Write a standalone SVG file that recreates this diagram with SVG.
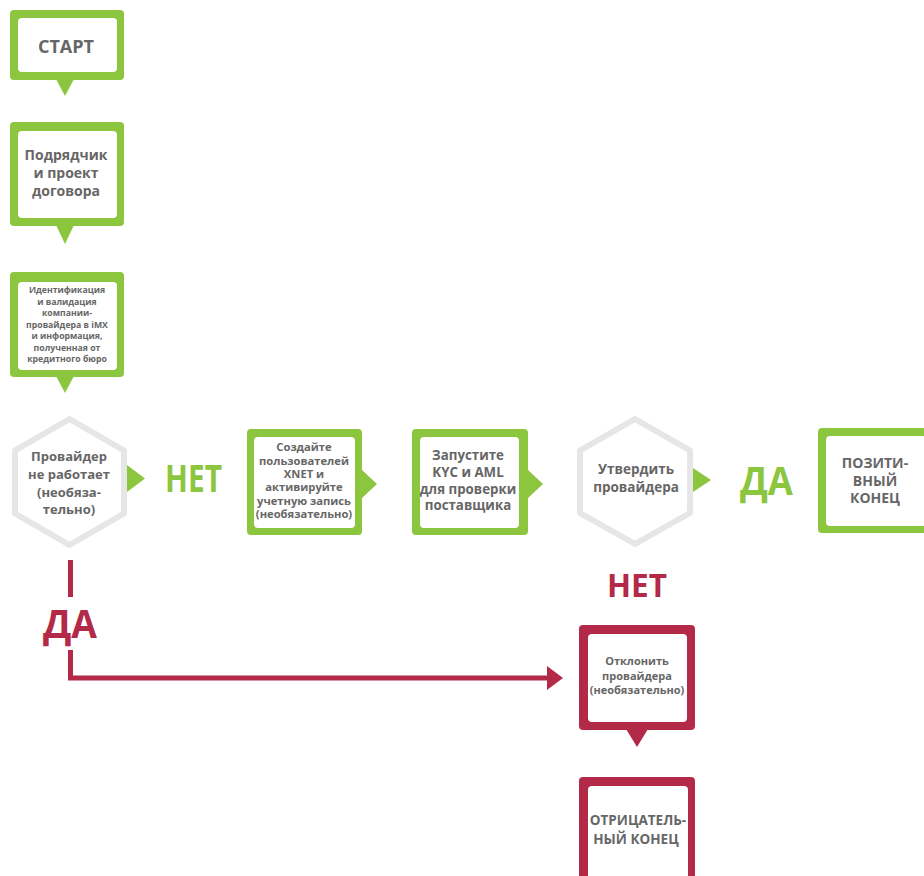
<svg xmlns="http://www.w3.org/2000/svg" width="924" height="876" viewBox="0 0 924 876">
<defs>
<style>
.g{fill:#8cc63f}
.r{fill:#b32a48}
.in{fill:#ffffff}
.hex{fill:#ffffff;stroke:#e6e6e6;stroke-width:6;stroke-linejoin:round}
.t{font-family:"Open Sans","Noto Sans","DejaVu Sans",sans-serif;font-weight:700;fill:#666666;text-anchor:middle}
.big{font-family:"Open Sans","Noto Sans","DejaVu Sans",sans-serif;font-weight:700;text-anchor:middle}
.rl{fill:none;stroke:#b32a48;stroke-width:5}
</style>
<marker id="ra" markerUnits="userSpaceOnUse" markerWidth="18" markerHeight="26" refX="0" refY="12" orient="auto">
<path d="M0 0 L16 12 L0 24 Z" fill="#b32a48"/>
</marker>
</defs>
<rect width="924" height="876" fill="#ffffff"/>

<g id="connectors">
<polygon class="g" points="56,79 74,79 65,96"/>
<polygon class="g" points="56,225 74,225 65,244"/>
<polygon class="g" points="56,376 74,376 65,393"/>
<polygon class="g" points="127,465 145,478.5 127,492"/>
<polygon class="g" points="362,470 377,484 362,498"/>
<polygon class="g" points="528,470 543,484 528,498"/>
<polygon class="g" points="693,468 711,480 693,492"/>
<polygon class="r" points="626,729 648,729 637,747"/>
<path class="rl" d="M70.5 560 V597"/>
<path class="rl" d="M70.5 650 V678 H547" marker-end="url(#ra)"/>
<text class="big" x="193.5" y="492" font-size="37" fill="#8cc63f" textLength="57" lengthAdjust="spacingAndGlyphs">НЕТ</text>
<text class="big" x="766.5" y="495" font-size="39" fill="#8cc63f" textLength="53" lengthAdjust="spacingAndGlyphs">ДА</text>
<text class="big" x="637" y="597" font-size="33" fill="#b32a48" textLength="60" lengthAdjust="spacingAndGlyphs">НЕТ</text>
<text class="big" x="70" y="638" font-size="40" fill="#b32a48" textLength="54" lengthAdjust="spacingAndGlyphs">ДА</text>
</g>

<g id="start">
<rect class="g" x="10" y="10" width="114" height="70" rx="4"/>
<rect class="in" x="18" y="18" width="99" height="54" rx="4"/>
<text class="t" x="66" y="53" font-size="18">СТАРТ</text>
</g>

<g id="contractor">
<rect class="g" x="10" y="122" width="114" height="104" rx="4"/>
<rect class="in" x="18" y="131" width="99" height="87" rx="4"/>
<text class="t" font-size="14"><tspan x="66" y="160">Подрядчик</tspan><tspan x="66" y="178">и проект</tspan><tspan x="66" y="196">договора</tspan></text>
</g>

<g id="identification">
<rect class="g" x="10" y="272" width="114" height="105" rx="4"/>
<rect class="in" x="18" y="282" width="99" height="88" rx="4"/>
<text class="t" font-size="8.7"><tspan x="67" y="293">Идентификация</tspan><tspan x="67" y="304.5">и валидация</tspan><tspan x="67" y="316">компании-</tspan><tspan x="67" y="327.5">провайдера в iMX</tspan><tspan x="67" y="339">и информация,</tspan><tspan x="67" y="350.5">полученная от</tspan><tspan x="67" y="362">кредитного бюро</tspan></text>
</g>

<g id="provider-inactive">
<polygon class="hex" points="69.5,419 124,450.5 124,513.5 69.5,545 15,513.5 15,450.5"/>
<text class="t" font-size="13"><tspan x="69" y="461">Провайдер</tspan><tspan x="69" y="479">не работает</tspan><tspan x="69" y="497">(необяза-</tspan><tspan x="69" y="514">тельно)</tspan></text>
</g>

<g id="create-users">
<rect class="g" x="247" y="429" width="115" height="106" rx="4"/>
<rect class="in" x="254" y="437" width="101" height="91" rx="4"/>
<text class="t" font-size="11.2"><tspan x="304" y="451">Создайте</tspan><tspan x="304" y="464.5">пользователей</tspan><tspan x="304" y="478">XNET и</tspan><tspan x="304" y="491">активируйте</tspan><tspan x="304" y="504.5">учетную запись</tspan><tspan x="304" y="518">(необязательно)</tspan></text>
</g>

<g id="kyc-aml">
<rect class="g" x="412" y="429" width="116" height="106" rx="4"/>
<rect class="in" x="420" y="437" width="99" height="91" rx="4"/>
<text class="t" font-size="13.3"><tspan x="468" y="460">Запустите</tspan><tspan x="468" y="477">KYC и AML</tspan><tspan x="468" y="493.5">для проверки</tspan><tspan x="468" y="510">поставщика</tspan></text>
</g>

<g id="approve">
<polygon class="hex" points="635,419 690,450.5 690,513 635,544 580,513 580,450.5"/>
<text class="t" font-size="13.5"><tspan x="636" y="474">Утвердить</tspan><tspan x="636" y="492">провайдера</tspan></text>
</g>

<g id="positive-end">
<rect class="g" x="818" y="428" width="116" height="105" rx="4"/>
<rect class="in" x="826" y="436" width="100" height="90" rx="4"/>
<text class="t" font-size="14"><tspan x="875" y="468">ПОЗИТИ-</tspan><tspan x="875" y="486">ВНЫЙ</tspan><tspan x="875" y="503">КОНЕЦ</tspan></text>
</g>

<g id="reject">
<rect class="r" x="579" y="625" width="116" height="105" rx="4"/>
<rect class="in" x="588" y="634" width="99" height="88" rx="4"/>
<text class="t" font-size="11"><tspan x="637" y="665">Отклонить</tspan><tspan x="637" y="680">провайдера</tspan><tspan x="637" y="694">(необязательно)</tspan></text>
</g>

<g id="negative-end">
<rect class="r" x="579" y="777" width="116" height="112" rx="4"/>
<rect class="in" x="588" y="786" width="100" height="100" rx="4"/>
<text class="t" font-size="13.5"><tspan x="638" y="825">ОТРИЦАТЕЛЬ-</tspan><tspan x="636" y="844">НЫЙ КОНЕЦ</tspan></text>
</g>
</svg>
